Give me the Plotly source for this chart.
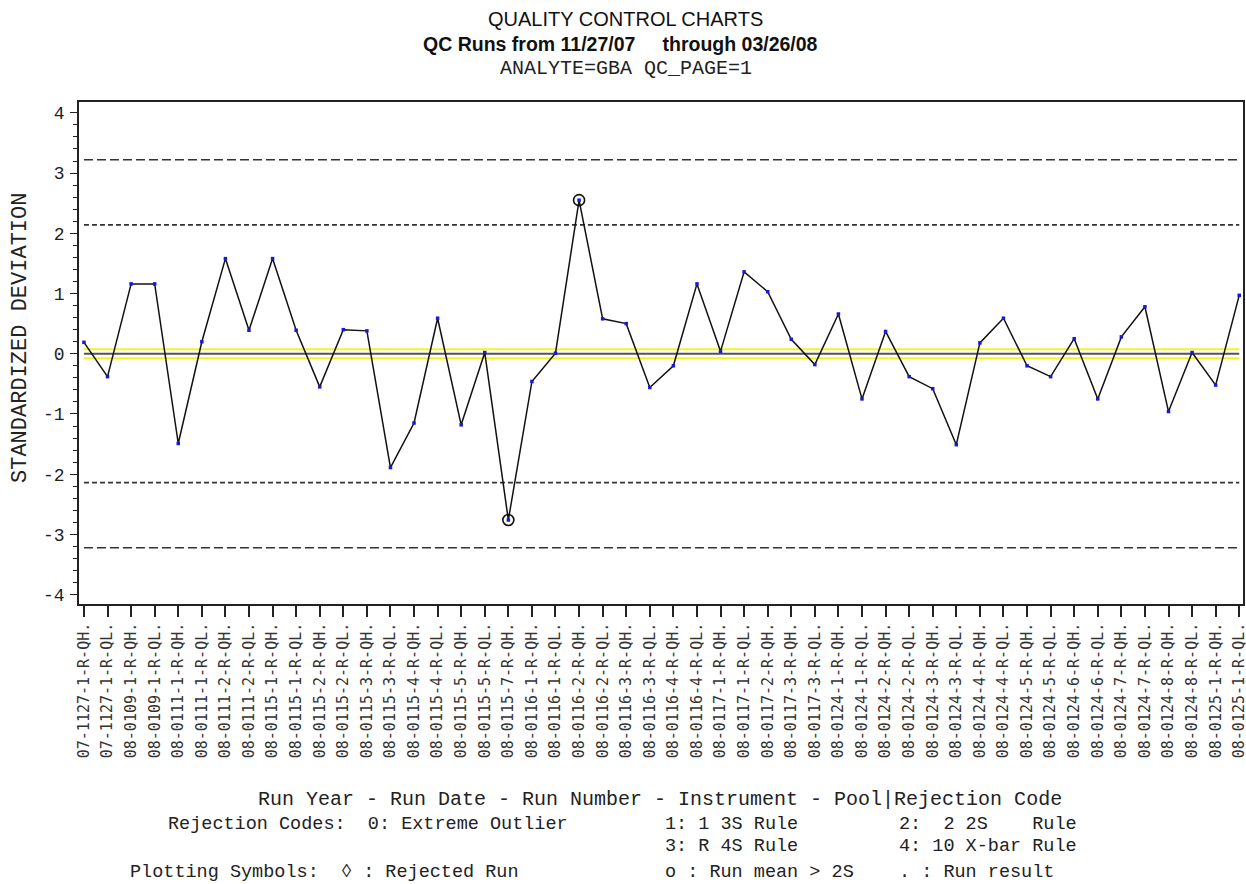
import plotly.graph_objects as go

# ---------------- data ----------------
run_labels = [
    "07-1127-1-R-QH.", "07-1127-1-R-QL.", "08-0109-1-R-QH.", "08-0109-1-R-QL.",
    "08-0111-1-R-QH.", "08-0111-1-R-QL.", "08-0111-2-R-QH.", "08-0111-2-R-QL.",
    "08-0115-1-R-QH.", "08-0115-1-R-QL.", "08-0115-2-R-QH.", "08-0115-2-R-QL.",
    "08-0115-3-R-QH.", "08-0115-3-R-QL.", "08-0115-4-R-QH.", "08-0115-4-R-QL.",
    "08-0115-5-R-QH.", "08-0115-5-R-QL.", "08-0115-7-R-QH.", "08-0116-1-R-QH.",
    "08-0116-1-R-QL.", "08-0116-2-R-QH.", "08-0116-2-R-QL.", "08-0116-3-R-QH.",
    "08-0116-3-R-QL.", "08-0116-4-R-QH.", "08-0116-4-R-QL.", "08-0117-1-R-QH.",
    "08-0117-1-R-QL.", "08-0117-2-R-QH.", "08-0117-3-R-QH.", "08-0117-3-R-QL.",
    "08-0124-1-R-QH.", "08-0124-1-R-QL.", "08-0124-2-R-QH.", "08-0124-2-R-QL.",
    "08-0124-3-R-QH.", "08-0124-3-R-QL.", "08-0124-4-R-QH.", "08-0124-4-R-QL.",
    "08-0124-5-R-QH.", "08-0124-5-R-QL.", "08-0124-6-R-QH.", "08-0124-6-R-QL.",
    "08-0124-7-R-QH.", "08-0124-7-R-QL.", "08-0124-8-R-QH.", "08-0124-8-R-QL.",
    "08-0125-1-R-QH.", "08-0125-1-R-QL.",
]
std_dev = [
    0.19, -0.38, 1.16, 1.16, -1.49, 0.20, 1.58, 0.39, 1.58, 0.39,
    -0.55, 0.40, 0.38, -1.89, -1.15, 0.59, -1.18, 0.02, -2.76, -0.46,
    0.01, 2.55, 0.58, 0.50, -0.56, -0.20, 1.16, 0.04, 1.36, 1.03,
    0.24, -0.18, 0.66, -0.75, 0.37, -0.38, -0.58, -1.51, 0.18, 0.59,
    -0.20, -0.38, 0.25, -0.75, 0.28, 0.78, -0.96, 0.02, -0.52, 0.97,
]
mean_gt_2s_runs = ["08-0115-7-R-QH.", "08-0116-2-R-QH."]
center_value = 0.0
band_limits = [0.075, -0.075]
limits_2s = [2.14, -2.14]
limits_3s = [3.22, -3.22]
y_tick_vals = [-4, -3, -2, -1, 0, 1, 2, 3, 4]
y_tick_text = ["-4", "-3", "-2", "-1", "0", "1", "2", "3", "4"]

# ---------------- layout helpers ----------------
W, H = 1246, 884
ML, MR, MT, MB = 79, 3, 102, 280
PW, PH = W - ML - MR, H - MT - MB


def px(xp):
    return (xp - ML) / PW


def py(yp):
    return (H - MB - yp) / PH


MONO = "Courier New, Liberation Mono, monospace"
NARROW = "Liberation Sans Narrow, Arial Narrow, Liberation Sans, Arial, sans-serif"

fig = go.Figure()
ends = [run_labels[0], run_labels[-1]]

# reference lines
for lim in limits_3s:
    fig.add_trace(go.Scatter(x=ends, y=[lim, lim], mode="lines",
                             line=dict(color="#333333", width=1.6, dash="9px,4px"),
                             hoverinfo="skip", showlegend=False))
for lim in limits_2s:
    fig.add_trace(go.Scatter(x=ends, y=[lim, lim], mode="lines",
                             line=dict(color="#333333", width=1.6, dash="5px,3px"),
                             hoverinfo="skip", showlegend=False))
for lim in band_limits:
    fig.add_trace(go.Scatter(x=ends, y=[lim, lim], mode="lines",
                             line=dict(color="#f5f51e", width=2),
                             hoverinfo="skip", showlegend=False))
fig.add_trace(go.Scatter(x=ends, y=[center_value, center_value], mode="lines",
                         line=dict(color="#555555", width=2),
                         hoverinfo="skip", showlegend=False))

# data
fig.add_trace(go.Scatter(x=run_labels, y=std_dev, mode="lines+markers",
                         line=dict(color="#111111", width=1.5),
                         marker=dict(symbol="square", size=3.5, color="#1a1acc",
                                     line=dict(width=0)),
                         showlegend=False))
circ_y = [std_dev[run_labels.index(r)] for r in mean_gt_2s_runs]
fig.add_trace(go.Scatter(x=mean_gt_2s_runs, y=circ_y, mode="markers",
                         marker=dict(symbol="circle-open", size=11, color="#111111",
                                     line=dict(width=1.6, color="#111111")),
                         showlegend=False))

fig.update_xaxes(
    type="category", categoryorder="array", categoryarray=run_labels,
    range=[-0.21, 49.16],
    tickangle=-90, tickfont=dict(family="DejaVu Sans Mono, monospace", size=15, color="#333333"),
    ticks="outside", ticklen=11, tickwidth=1.5, tickcolor="#222222",
    showline=True, mirror=True, linecolor="#222222", linewidth=1.5,
    showgrid=False, zeroline=False,
)
fig.update_yaxes(
    range=[-4.155, 4.18], tickmode="array", tickvals=y_tick_vals, ticktext=y_tick_text,
    tickfont=dict(family=MONO, size=18, color="#222222"),
    ticks="outside", ticklen=7, tickwidth=1.3, tickcolor="#222222",
    minor=dict(tickmode="linear", tick0=0, dtick=0.2, ticks="outside", ticklen=4,
               tickwidth=1, tickcolor="#222222"),
    ticklabelstandoff=2,
    showline=True, mirror=True, linecolor="#222222", linewidth=1.5,
    showgrid=False, zeroline=False,
)

ann = []


def text(x, y, s, font, xanchor="left", angle=0):
    ann.append(dict(x=x, y=y, xref="paper", yref="paper", text=s, showarrow=False,
                    xanchor=xanchor, yanchor="middle", font=font, textangle=angle))


NB = "\u00a0"
text(px(625), py(19), "QUALITY CONTROL CHARTS", dict(family=NARROW, size=20, color="#111"), "center")
text(px(620), py(44), "<b>QC Runs from 11/27/07" + NB * 5 + "through 03/26/08</b>",
     dict(family=NARROW, size=19.5, color="#111"), "center")
text(px(626), py(68), "ANALYTE=GBA QC_PAGE=1", dict(family=MONO, size=20, color="#222"), "center")
text(px(20), py(338), "STANDARDIZED DEVIATION", dict(family=MONO, size=22, color="#222"), "center", -90)
text(px(660), py(799), "Run Year - Run Date - Run Number - Instrument - Pool|Rejection Code",
     dict(family=MONO, size=20, color="#222"), "center")
legend_font = dict(family=MONO, size=18.5, color="#222")
text(px(166), py(824), "Rejection Codes:" + NB * 2 + "0: Extreme Outlier", legend_font)
text(px(663), py(824), "1: 1 3S Rule", legend_font)
text(px(897), py(824), "2:" + NB * 2 + "2 2S" + NB * 4 + "Rule", legend_font)
text(px(663), py(846), "3: R 4S Rule", legend_font)
text(px(897), py(846), "4: 10 X-bar Rule", legend_font)
text(px(128), py(872), "Plotting Symbols:" + NB * 2 + "\u25ca : Rejected Run", legend_font)
text(px(663), py(872), "o : Run mean > 2S", legend_font)
text(px(897), py(872), ". : Run result", legend_font)

fig.update_layout(
    width=W, height=H, margin=dict(l=ML, r=MR, t=MT, b=MB, autoexpand=False),
    paper_bgcolor="white", plot_bgcolor="white", annotations=ann, showlegend=False,
)

fig.write_html("out.html", config={"displayModeBar": False},
               post_script="document.body.style.margin='0px';")
